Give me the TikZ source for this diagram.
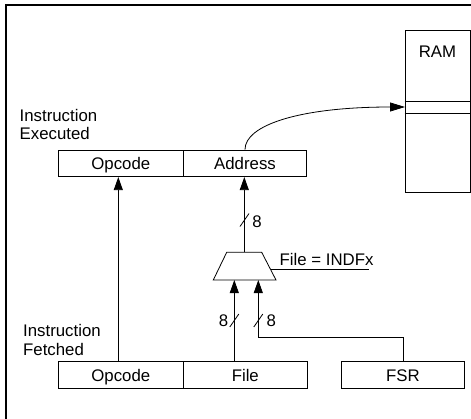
\documentclass[tikz,border=0pt]{standalone}
\usepackage{fontspec}
\setmainfont{Liberation Sans}
\usetikzlibrary{arrows.meta}
\begin{document}
\begin{tikzpicture}[x=1pt,y=-1pt,
  wire/.style={line width=0.8pt},
  arr/.style={wire,-{Triangle[length=13pt,width=9pt]}},
  field/.style={draw,line width=0.8pt,inner sep=0pt,minimum height=26.7pt,text height=12pt,text depth=0pt,font=\fontsize{16.8}{19}\selectfont},
  lbl/.style={inner sep=0pt,font=\fontsize{16.8}{19}\selectfont},
  slash/.style={wire}]
\useasboundingbox (0,0) rectangle (471,418);
\draw[line width=2pt] (6,419) -- (6,5) -- (472,5);
% executed instruction
\node[field,minimum width=125pt] (eop) at (120.8,163.3) {Opcode};
\node[field,minimum width=123.4pt] (eaddr) at (245,163.3) {Address};
\node[lbl,anchor=base west] (exl1) at (19.5,121.7) {Instruction};
\node[lbl,anchor=base west] (exl2) at (19.5,139.8) {Executed};
% fetched instruction
\node[field,minimum width=125pt] (fop) at (120.8,375.2) {Opcode};
\node[field,minimum width=124pt] (ffile) at (245.3,375.2) {File};
\node[field,minimum width=122.6pt] (fsr) at (403,375) {FSR};
\node[lbl,anchor=base west] (ftl1) at (23,336.5) {Instruction};
\node[lbl,anchor=base west] (ftl2) at (23,355) {Fetched};
% RAM
\node[draw,line width=0.8pt,minimum width=65pt,minimum height=162.7pt,inner sep=0pt] (ram) at (437.5,111.35) {};
\node[lbl,anchor=base] (ramt) at (437.5,57.7) {RAM};
\draw[wire] (ram.west |- 0,101) -- (ram.east |- 0,101);
\draw[wire] (ram.west |- 0,113.3) -- (ram.east |- 0,113.3);
\coordinate (slot) at (405,107);
% mux
\coordinate (muxtop) at (244.3,252.3);
\coordinate (in1) at (234.3,280);
\coordinate (in2) at (258.3,280);
\coordinate (muxr) at (270.6,269);
\coordinate (selend) at (369,269);
\draw[wire] (226.7,252.3) -- (261.7,252.3) -- (276,280) -- (213.3,280) -- cycle;
\node[lbl,anchor=base west] (sel) at (279.5,265.7) {File = INDFx};
\draw[wire] (muxr) -- (selend);
% connectors
\draw[arr] ([xshift=-2.5pt]fop.north) -- ([xshift=-2.5pt]eop.south);
\draw[arr] (muxtop) -- (muxtop |- eaddr.south);
\draw[arr] (in1 |- ffile.north) -- (in1);
\coordinate (bend) at (258.3,337.3);
\draw[arr] (fsr.north) |- (bend) -- (in2);
\draw[wire,-{Triangle[length=15pt,width=9pt]}] (eaddr.north) .. controls (245,125) and (300,107) .. (slot);
% bus width marks
\draw[slash] (240,226.5) -- (249,213.5);
\node[lbl] (w1) at (257,221.5) {8};
\draw[slash] (229.8,327) -- (238.8,314);
\node[lbl] (w2) at (223.5,320.5) {8};
\draw[slash] (253.8,327) -- (262.8,314);
\node[lbl] (w3) at (271.3,320.5) {8};
\end{tikzpicture}
\end{document}
